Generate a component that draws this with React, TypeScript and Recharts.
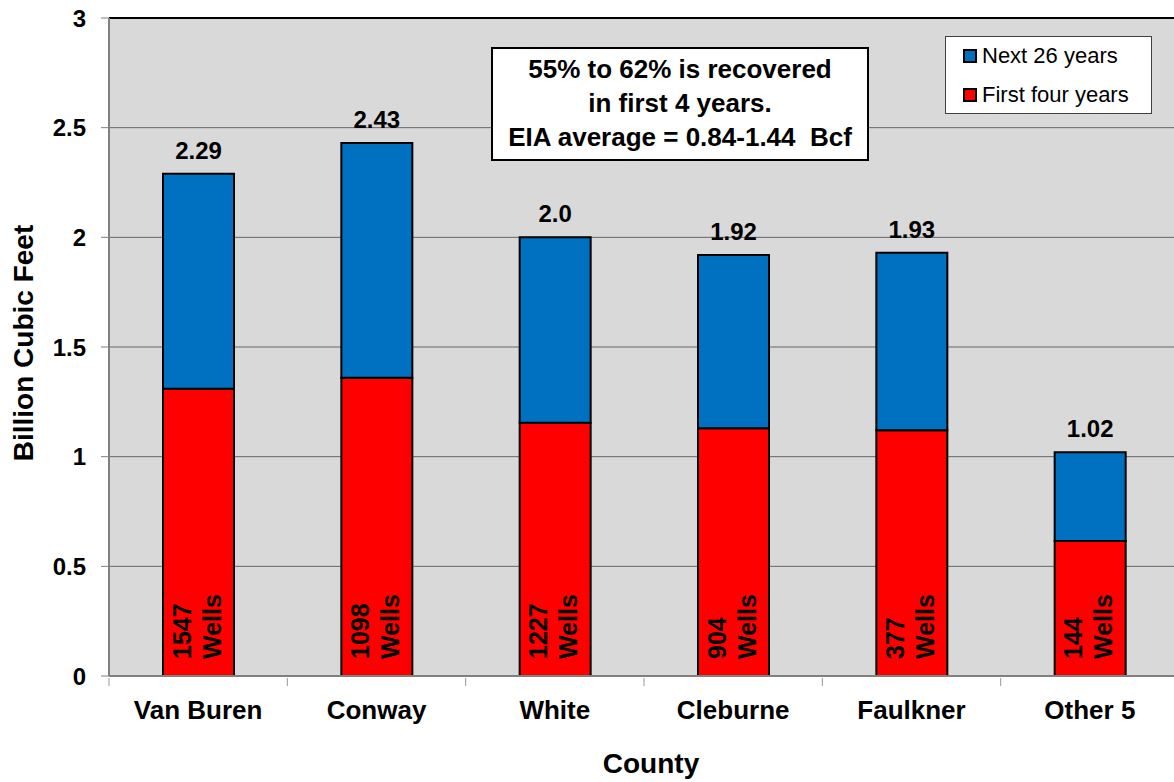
import { BarChart, Bar, XAxis, YAxis, CartesianGrid, ReferenceLine, LabelList } from "recharts";

const counties = ["Van Buren", "Conway", "White", "Cleburne", "Faulkner", "Other 5"];
const firstFour = [1.31, 1.36, 1.155, 1.13, 1.12, 0.615];
const totals = [2.29, 2.43, 2.0, 1.92, 1.93, 1.02];
const totalLabels = ["2.29", "2.43", "2.0", "1.92", "1.93", "1.02"];
const wellCounts = ["1547", "1098", "1227", "904", "377", "144"];
const yTicks = [0, 0.5, 1, 1.5, 2, 2.5, 3];
const legendLabels = ["Next 26 years", "First four years"];
const noteLines = ["55% to 62% is recovered", "in first 4 years.", "EIA average = 0.84-1.44  Bcf"];

const data = counties.map((c, i) => ({
  county: c,
  first: firstFour[i],
  next: +(totals[i] - firstFour[i]).toFixed(3),
}));

const FONT = "'Liberation Sans', Arial, sans-serif";
const BLUE = "#0070C0";
const RED = "#FF0000";

function CountyTick(props: any) {
  const { x, y, payload, index } = props;
  const half = payload?.offset ?? 89;
  return (
    <g>
      <line x1={x - half} y1={y} x2={x - half} y2={y + 8} stroke="#999" strokeWidth={1} />
      {index === counties.length - 1 && (
        <line x1={x + half} y1={y} x2={x + half} y2={y + 8} stroke="#999" strokeWidth={1} />
      )}
      <text x={x} y={y + 41} textAnchor="middle" fontFamily={FONT} fontWeight="bold" fontSize={26} fill="#000">
        {payload.value}
      </text>
    </g>
  );
}

function TotalLabel(props: any) {
  const { x, y, width, index } = props;
  return (
    <text x={x + width / 2} y={y - 15} textAnchor="middle" fontFamily={FONT} fontWeight="bold" fontSize={24} fill="#000">
      {totalLabels[index]}
    </text>
  );
}

function WellsLabel(props: any) {
  const { x, y, width, height, index } = props;
  const cx = x + width / 2;
  const by = y + height - 17;
  return (
    <g fontFamily={FONT} fontWeight="bold" fontSize={25} fill="#000">
      <text x={cx - 8} y={by} transform={`rotate(-90, ${cx - 8}, ${by})`}>
        {wellCounts[index]}
      </text>
      <text x={cx + 22} y={by} transform={`rotate(-90, ${cx + 22}, ${by})`}>
        Wells
      </text>
    </g>
  );
}

function LegendBox() {
  const colors = [BLUE, RED];
  return (
    <div
      style={{
        position: "absolute",
        left: 945,
        top: 36,
        width: 205,
        height: 76,
        border: "1px solid #404040",
        background: "#fff",
        fontFamily: FONT,
        fontSize: 22,
      }}
    >
      {legendLabels.map((label, i) => (
        <div key={label} style={{ position: "absolute", left: 17, top: 6 + i * 39, display: "flex", alignItems: "center" }}>
          <span
            style={{
              display: "inline-block",
              width: 10,
              height: 10,
              background: colors[i],
              border: "2px solid #000",
              marginRight: 5,
            }}
          />
          <span style={{ lineHeight: "26px" }}>{label}</span>
        </div>
      ))}
    </div>
  );
}

export default function App() {
  return (
    <div
      style={{
        position: "absolute",
        left: 0,
        top: 0,
        width: 1174,
        height: 782,
        overflow: "hidden",
        background: "#fff",
      }}
    >
      <BarChart
        width={1182}
        height={782}
        data={data}
        margin={{ top: 18, right: 3, bottom: 0, left: 0 }}
        barSize={71}
      >
        <CartesianGrid vertical={false} fill="#d9d9d9" stroke="#666" strokeWidth={1} />
        <XAxis
          dataKey="county"
          height={106}
          tickSize={0}
          tickLine={false}
          axisLine={{ stroke: "#808080", strokeWidth: 2 }}
          tick={<CountyTick />}
          interval={0}
          label={{
            content: () => (
              <text x={651} y={773} textAnchor="middle" fontFamily={FONT} fontWeight="bold" fontSize={28} fill="#000">
                County
              </text>
            ),
          }}
        />
        <YAxis
          width={109}
          domain={[0, 3]}
          ticks={yTicks}
          interval={0}
          tickSize={8}
          tickMargin={15}
          tickLine={{ stroke: "#808080" }}
          axisLine={{ stroke: "#808080", strokeWidth: 2 }}
          tick={{ fontFamily: FONT, fontWeight: "bold", fontSize: 24, fill: "#000" }}
          label={{
            content: () => (
              <text
                x={33}
                y={343}
                textAnchor="middle"
                transform="rotate(-90, 33, 343)"
                fontFamily={FONT}
                fontWeight="bold"
                fontSize={28}
                fill="#000"
              >
                Billion Cubic Feet
              </text>
            ),
          }}
        />
        <ReferenceLine y={3} stroke="#000" strokeWidth={2} />
        <Bar dataKey="first" stackId="a" fill={RED} stroke="#000" strokeWidth={2} isAnimationActive={false}>
          <LabelList dataKey="first" content={<WellsLabel />} />
        </Bar>
        <Bar dataKey="next" stackId="a" fill={BLUE} stroke="#000" strokeWidth={2} isAnimationActive={false}>
          <LabelList dataKey="next" content={<TotalLabel />} />
        </Bar>
      </BarChart>
      <LegendBox />
      <div
        style={{
          position: "absolute",
          left: 491,
          top: 47,
          width: 374,
          height: 107,
          border: "2px solid #000",
          background: "#fff",
          fontFamily: FONT,
          fontWeight: "bold",
          fontSize: 26,
          textAlign: "center",
          lineHeight: "34px",
          paddingTop: 3,
        }}
      >
        {noteLines.map((l) => (
          <div key={l} style={{ whiteSpace: "pre" }}>
            {l}
          </div>
        ))}
      </div>
    </div>
  );
}
